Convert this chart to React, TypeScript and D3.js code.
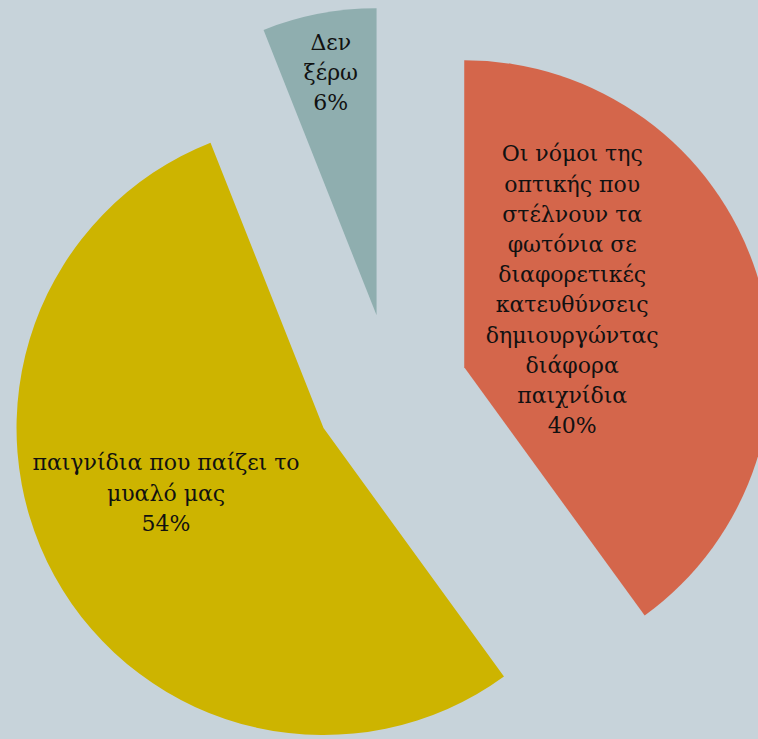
import React, { useEffect, useRef } from 'react';
import * as d3 from 'd3';

// slice order goes clockwise from 12 o'clock
const labels = [
  ['Οι νόμοι της', 'οπτικής που', 'στέλνουν τα', 'φωτόνια σε', 'διαφορετικές', 'κατευθύνσεις', 'δημιουργώντας', 'διάφορα', 'παιχνίδια'],
  ['παιγνίδια που παίζει το', 'μυαλό μας'],
  ['Δεν', 'ξέρω'],
];
const values = [40, 54, 6];
const colors = ['#d4664b', '#cdb400', '#8faeaf'];

// label nudges from the slice centroid (layout only)
const labelShift = [
  [-38, -30],
  [-23, -9],
  [-17, -92],
];

const W = 758;
const H = 739;

const App = () => {
  const svgRef = useRef<SVGSVGElement>(null);

  useEffect(() => {
    const svgEl = d3.select(svgRef.current);
    svgEl.selectAll('*').remove();

    const cx = 391;
    const cy = 391;
    const radius = 307;
    const explode = 77;
    const lineH = 30.2;

    const pie = d3.pie<number>().sort(null).value(d => d);
    const arcs = pie(values);
    const arc = d3.arc<d3.PieArcDatum<number>>().innerRadius(0).outerRadius(radius);

    const g = svgEl.append('g').attr('transform', `translate(${cx},${cy})`);

    const slices = g.selectAll('.slice')
      .data(arcs)
      .enter()
      .append('g')
      .attr('transform', d => {
        const mid = (d.startAngle + d.endAngle) / 2;
        return `translate(${Math.sin(mid) * explode},${-Math.cos(mid) * explode})`;
      });

    slices.append('path')
      .attr('d', arc)
      .attr('fill', (d, i) => colors[i]);

    slices.each(function (d, i) {
      const [x0, y0] = arc.centroid(d);
      const x = x0 + labelShift[i][0];
      const y = y0 + labelShift[i][1];
      const lines = [...labels[i], `${d.data}%`];
      const txt = d3.select(this).append('text')
        .attr('text-anchor', 'middle')
        .attr('font-family', '"DejaVu Serif", serif')
        .attr('font-size', 22)
        .attr('fill', '#111');
      lines.forEach((l, k) => {
        txt.append('tspan')
          .attr('x', x)
          .attr('y', y + (k - (lines.length - 1) / 2) * lineH)
          .attr('dominant-baseline', 'central')
          .text(l);
      });
    });
  }, []);

  return (
    <div style={{ position: 'fixed', left: 0, top: 0, width: W, height: H, background: '#c7d3da', overflow: 'hidden' }}>
      <svg ref={svgRef} width={W} height={H} style={{ display: 'block' }}></svg>
    </div>
  );
};

export default App;
